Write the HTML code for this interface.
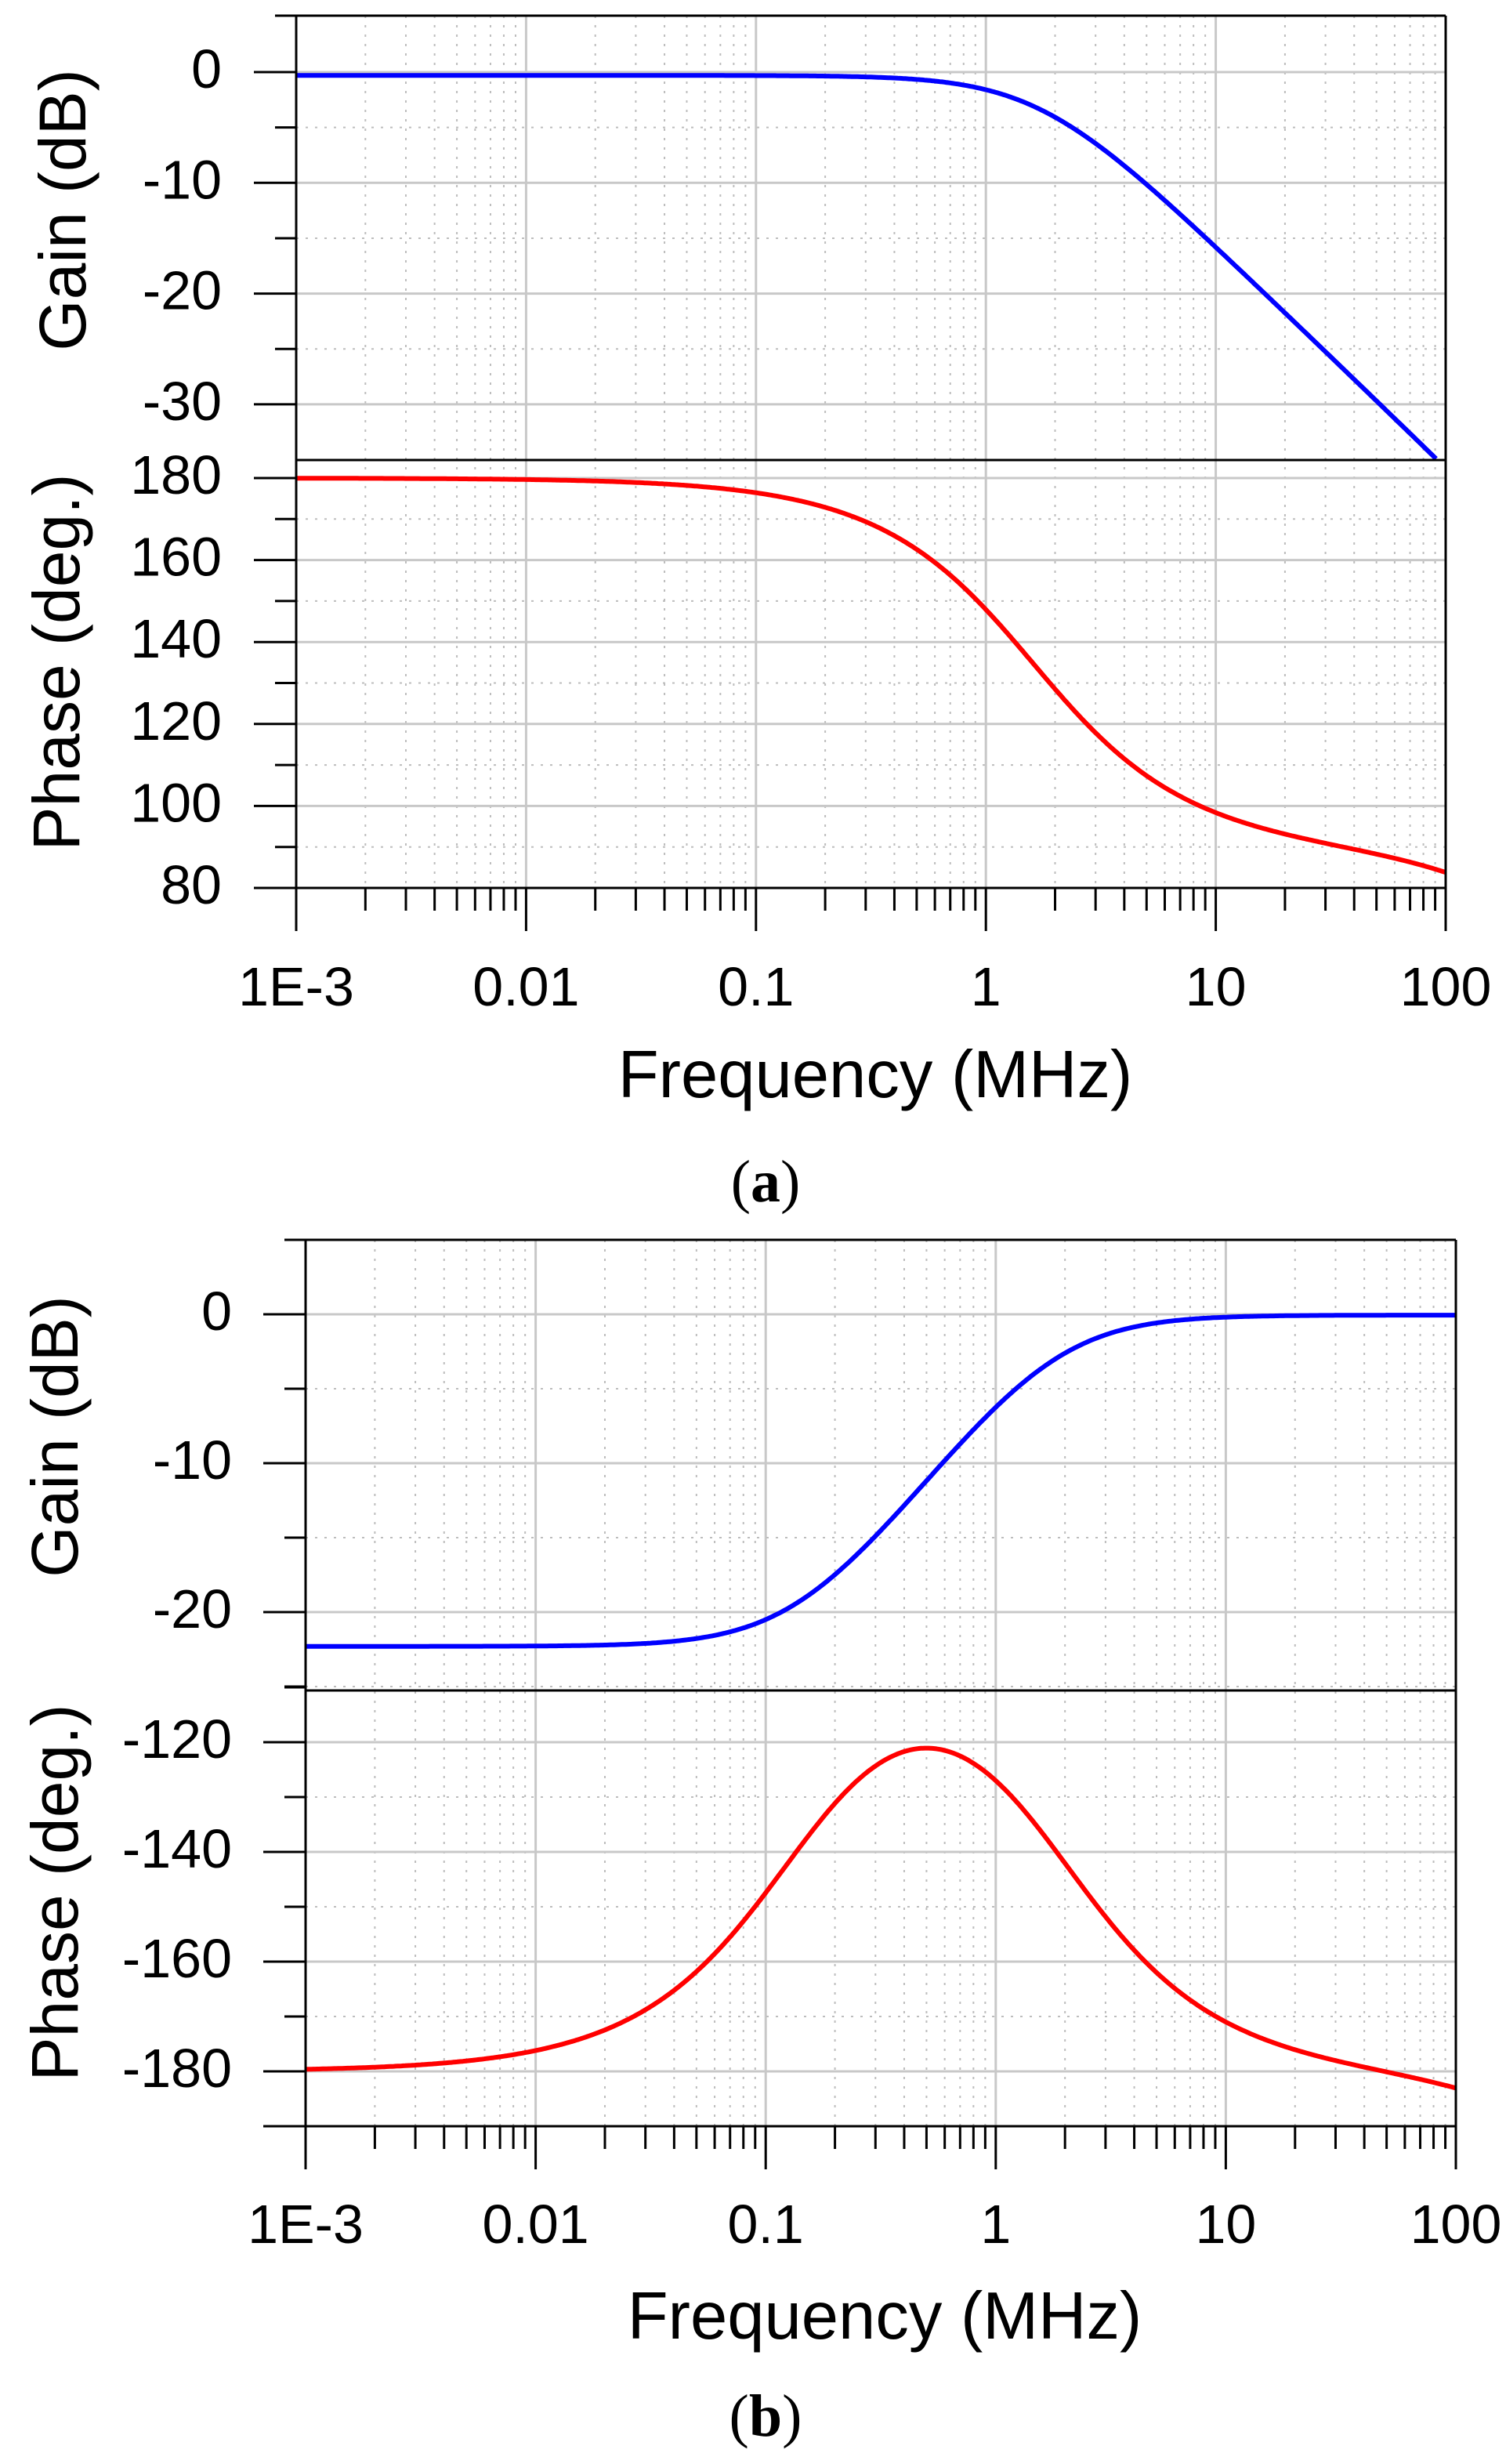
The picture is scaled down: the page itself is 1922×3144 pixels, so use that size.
<!DOCTYPE html>
<html><head><meta charset="utf-8">
<style>
html,body{margin:0;padding:0;background:#fff;}
svg{display:block;}
text{font-family:"Liberation Sans",Arial,sans-serif;fill:#000;}
</style></head>
<body>
<svg id="s" xmlns="http://www.w3.org/2000/svg" width="1922" height="3144" viewBox="0 0 1922 3144">
<rect width="1922" height="3144" fill="#fff"/>
<g id="g"></g>
<text x="977" y="1533" text-anchor="middle" style="font-family:'Liberation Serif',serif;font-size:76px">(<tspan font-weight="bold">a</tspan>)</text>
<text x="977" y="3108" text-anchor="middle" style="font-family:'Liberation Serif',serif;font-size:76px">(<tspan font-weight="bold">b</tspan>)</text>
</svg>
<script>
var G=document.getElementById('g');var out='';
function L(x1,y1,x2,y2,st){out+='<line x1="'+x1+'" y1="'+y1+'" x2="'+x2+'" y2="'+y2+'" '+st+'/>';}
function T(x,y,s,anchor,size,extra){out+='<text x="'+x+'" y="'+y+'" text-anchor="'+anchor+'" font-size="'+size+'" '+(extra||'')+'>'+s+'</text>';}
var MAJ='stroke="#c8c8c8" stroke-width="3"', MIN='stroke="#bdbdbd" stroke-width="2" stroke-dasharray="3,9"', AX='stroke="#000" stroke-width="3"';
function plot(P){
  var Lx=P.L,R=P.R,dec=(R-Lx)/5;
  function X(f){return Lx+(Math.log10(f)+3)*dec;}
  for(var d=-3;d<2;d++){for(var m=1;m<10;m++){var x=X(m*Math.pow(10,d));
    if(m==1){if(d>-3)L(x,P.top,x,P.bot,MAJ);}else{L(x,P.top,x,P.bot,MIN);}}}
  P.hg.forEach(function(h){L(Lx,h[0],R,h[0],h[1]?MAJ:MIN);});
  function curve(fn,yf,col,y0,y1){var s='';for(var i=0;i<=600;i++){var lf=-3+5*i/600,f=Math.pow(10,lf);var y=yf(fn(f));
    if(y>y1){ if(s) break; else continue;}
    s+=(s?'L':'M')+X(f).toFixed(1)+','+y.toFixed(1);}
    out+='<path d="'+s+'" fill="none" stroke="'+col+'" stroke-width="6" stroke-linejoin="round"/>';}
  curve(P.gain,P.gy,'#0000ff',P.top,P.div);curve(P.ph,P.py,'#ff0000',P.div,P.bot);
  L(Lx,P.top,R,P.top,AX);L(R,P.top,R,P.bot,AX);L(Lx,P.div,R,P.div,AX);
  L(Lx,P.top,Lx,P.bot+55,AX);L(Lx-54,P.bot,R,P.bot,AX);
  P.yt.forEach(function(t){L(t[1]?Lx-54:Lx-27,t[0],Lx,t[0],AX);});
  for(var d=-3;d<3;d++){for(var m=1;m<10;m++){if(d==2&&m>1)break;var x=X(m*Math.pow(10,d));
    L(x,P.bot,x,P.bot+(m==1?55:29),AX);}}
  P.yl.forEach(function(t){T(P.labR,t[0]+20,t[1],'end',70);});
  var xl=['1E-3','0.01','0.1','1','10','100'];
  xl.forEach(function(s,i){T(Lx+i*dec,P.xlb,s,'middle',70);});
  T(P.fx,P.fy,'Frequency (MHz)','middle',85);
  out+='<text transform="translate('+P.gx+','+P.gc+') rotate(-90)" text-anchor="middle" font-size="84" dominant-baseline="central">Gain (dB)</text>';
  out+='<text transform="translate('+P.px+','+P.pc+') rotate(-90)" text-anchor="middle" font-size="84" dominant-baseline="central">Phase (deg.)</text>';
}
var D=180/Math.PI;
(function(){
 var gy=function(g){return 92-14.13*g;}, py=function(p){return 610+(180-p)*5.23;};
 var hg=[],yt=[],yl=[];
 for(var g=0;g>=-30;g-=5){hg.push([gy(g),g%10==0]);yt.push([gy(g),g%10==0]);if(g%10==0)yl.push([gy(g),g]);}
 yt.push([20,false]);
 for(var p=180;p>=80;p-=10){hg.push([py(p),p%20==0]);yt.push([py(p),p%20==0]);if(p%20==0)yl.push([py(p),p]);}
 plot({L:378,R:1845,top:20,div:587,bot:1133,gy:gy,py:py,hg:hg,yt:yt,yl:yl,labR:283,xlb:1283,fx:1117,fy:1400,
  gx:80,gc:268,px:72,pc:845,
  gain:function(f){return -0.3-10*Math.log10(1+Math.pow(f/1.7,2))-10*Math.log10(1+Math.pow(f/800,2));},
  ph:function(f){return 180-Math.atan(f/1.6)*D-Math.atan(f/800)*D;}});
})();
(function(){
 var gy=function(g){return 1677-19.0*g;}, py=function(p){return 2223+(-120-p)*7.0;};
 var hg=[],yt=[],yl=[];
 for(var g=5;g>=-25;g-=5){if(g<5)hg.push([gy(g),g%10==0]);yt.push([gy(g),g%10==0]);if(g%10==0&&g<=0)yl.push([gy(g),g]);}
 for(var p=-120;p>=-180;p-=10){hg.push([py(p),p%20==0]);yt.push([py(p),p%20==0]);if(p%20==0)yl.push([py(p),p]);}
 yt.push([py(-110),false]);
 plot({L:390,R:1858,top:1582,div:2157,bot:2713,gy:gy,py:py,hg:hg,yt:yt,yl:yl,labR:296,xlb:2862,fx:1129,fy:2984,
  gx:70,gc:1833,px:70,pc:2415,
  gain:function(f){var z=0.139,p=1.8;return -22.3+10*Math.log10(1+Math.pow(f/z,2))-10*Math.log10(1+Math.pow(f/p,2));},
  ph:function(f){var z=0.139,p=1.8;return -180+Math.atan(f/z)*D-Math.atan(f/p)*D-Math.atan(f/1430)*D;}});
})();
G.innerHTML=out;
</script>
</body></html>
